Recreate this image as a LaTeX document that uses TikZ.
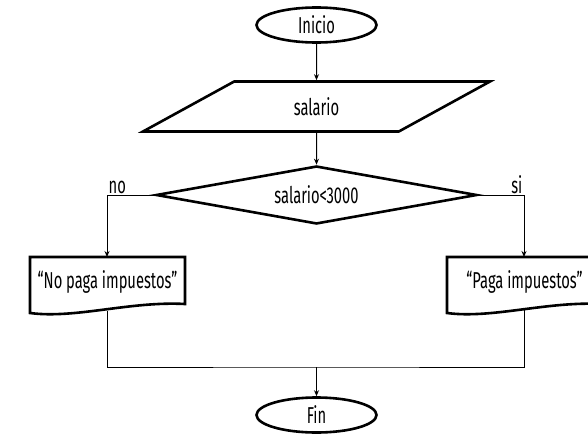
\documentclass[tikz,border=0pt]{standalone}
\usepackage{fontspec}
\setmainfont{Fira Sans}[FakeStretch=0.64]
\usetikzlibrary{shapes.geometric,arrows.meta}
\begin{document}
\begin{tikzpicture}[x=1pt,y=-1pt,
  every node/.style={font=\fontsize{23}{27}\selectfont},
  shapeline/.style={draw=black,line width=2.6pt,fill=white},
  terminal/.style={shapeline,ellipse,minimum width=120pt,minimum height=35pt,inner sep=0pt},
  inout/.style={shapeline,trapezium,trapezium left angle=36,trapezium right angle=144,
    trapezium stretches=true,minimum width=350pt,minimum height=50pt,inner sep=0pt},
  decision/.style={shapeline,diamond,aspect=5.5,minimum width=321pt,minimum height=58pt,inner sep=0pt},
  flow/.style={draw=black,line width=1pt},
  arrow/.style={flow,-{Stealth[length=6pt,width=5pt]}},
  branchlabel/.style={inner sep=1.5pt}
]
\clip (0,0) rectangle (588,436);
\useasboundingbox (0,0) rectangle (588,436);

% main column
\node[terminal] (start) at (316.5,25) {Inicio};
\node[inout] (salario) at (316.5,106.5) {salario};
\node[decision] (cond) at (316.5,195) {salario<3000};
\node[terminal] (fin) at (316.5,415) {Fin};

% output documents
\draw[shapeline] (30,257) -- (185,257) -- (185,304)
  .. controls (130,301) and (75,319) .. (30,313) -- cycle;
\node (nopaga) at (107.5,282) {“No paga impuestos”};
\draw[shapeline] (447,257) -- (602,257) -- (602,304)
  .. controls (547,301) and (492,319) .. (447,313) -- cycle;
\node (paga) at (524.5,282) {“Paga impuestos”};

\coordinate (noTop) at (107,257);
\coordinate (noBot) at (107,311);
\coordinate (siTop) at (524,257);
\coordinate (siBot) at (524,310);
\coordinate (merge) at (316.5,367);

% connectors
\draw[arrow] (start.south) -- (salario.north);
\draw[arrow] (salario.south) -- (cond.north);
\draw[arrow] (cond.west) -| coordinate (noCorner) (noTop);
\draw[arrow] (cond.east) -| coordinate (siCorner) (siTop);
\node[branchlabel,anchor=south west] at (noCorner) {no};
\node[branchlabel,anchor=south east] at (siCorner) {si};
\draw[flow] (noBot) |- (merge) -| (siBot);
\draw[arrow] (merge) -- (fin.north);
\end{tikzpicture}
\end{document}
